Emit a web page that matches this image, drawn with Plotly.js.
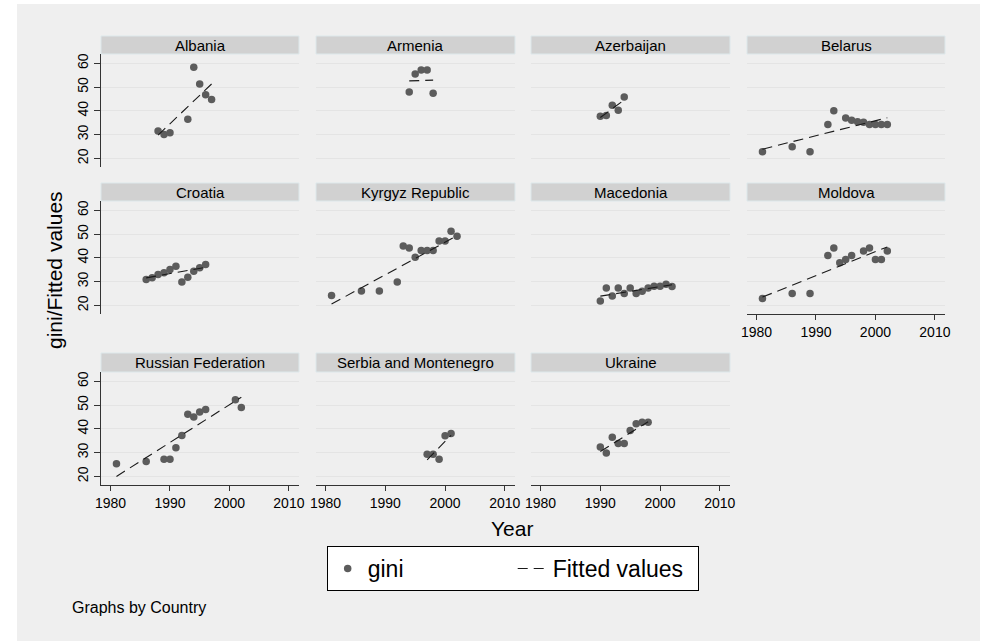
<!DOCTYPE html>
<html><head><meta charset="utf-8">
<script src="https://cdn.plot.ly/plotly-3.0.1.min.js"></script>
<style>html,body{margin:0;padding:0;background:#fff}#chart{width:984px;height:641px}</style>
</head><body><div id="chart"></div>
<script>
// ---- data ----
const countries = ["Albania","Armenia","Azerbaijan","Belarus","Croatia","Kyrgyz Republic","Macedonia","Moldova","Russian Federation","Serbia and Montenegro","Ukraine"];
const yearsAlbania = [1988,1989,1990,1993,1994,1995,1996,1997];
const giniAlbania  = [31.5,30.1,30.8,36.5,58.3,51.3,46.8,44.8];
const yearsArmenia = [1994,1995,1996,1997,1998];
const giniArmenia  = [47.9,55.5,57.2,57.2,47.4];
const yearsAzerbaijan = [1990,1991,1992,1993,1994];
const giniAzerbaijan  = [37.7,38.1,42.4,40.3,45.8];
const yearsBelarus = [1981,1986,1989,1992,1993,1995,1996,1997,1998,1999,2000,2001,2002];
const giniBelarus  = [22.8,24.9,22.8,34.3,40.0,37.0,36.0,35.4,35.2,34.3,34.3,34.3,34.3];
const yearsCroatia = [1986,1987,1988,1989,1990,1991,1992,1993,1994,1995,1996];
const giniCroatia  = [30.9,31.6,33.0,33.7,35.1,36.5,29.8,31.9,34.4,35.8,37.2];
const yearsKyrgyz = [1981,1986,1989,1992,1993,1994,1995,1996,1997,1998,1999,2000,2001,2002];
const giniKyrgyz  = [24.2,26.1,26.1,29.9,45.0,44.1,40.3,43.1,43.1,43.1,47.1,47.1,51.2,49.1];
const yearsMacedonia = [1990,1991,1992,1993,1994,1995,1996,1997,1998,1999,2000,2001,2002];
const giniMacedonia  = [21.9,27.3,24.0,27.3,25.0,27.3,25.0,26.0,27.3,28.1,28.1,28.9,28.0];
const yearsMoldova = [1981,1986,1989,1992,1993,1994,1995,1996,1998,1999,2000,2001,2002];
const giniMoldova  = [22.9,25.0,25.0,41.0,44.1,37.9,39.3,41.0,42.9,44.1,39.3,39.3,42.9];
const yearsRussia = [1981,1986,1989,1990,1991,1992,1993,1994,1995,1996,2001,2002];
const giniRussia  = [25.3,26.3,27.2,27.2,32.1,37.2,46.1,45.0,47.1,48.1,52.2,49.0];
const yearsSerbia = [1997,1998,1999,2000,2001];
const giniSerbia  = [29.3,29.3,27.2,37.1,38.1];
const yearsUkraine = [1990,1991,1992,1993,1994,1995,1996,1997,1998];
const giniUkraine  = [32.4,29.9,36.5,33.8,33.8,39.3,42.1,42.8,42.8];
// fitted values at the first and last year of each country
const fitStart = [29.8,52.6,37.2,23.9,31.6,20.6,23.9,23.5,20.0,27.0,30.5];
const fitEnd   = [51.3,52.9,44.6,37.1,36.0,49.3,28.7,44.6,53.3,37.3,43.0];
const xTickVals = [1980,1990,2000,2010];
const yTickVals = [20,30,40,50,60];

const yearsList = [yearsAlbania,yearsArmenia,yearsAzerbaijan,yearsBelarus,yearsCroatia,yearsKyrgyz,yearsMacedonia,yearsMoldova,yearsRussia,yearsSerbia,yearsUkraine];
const giniList  = [giniAlbania,giniArmenia,giniAzerbaijan,giniBelarus,giniCroatia,giniKyrgyz,giniMacedonia,giniMoldova,giniRussia,giniSerbia,giniUkraine];

// ---- geometry (pixels) ----
const W = 984, H = 641;
const FONT = "Liberation Sans, Arial, Helvetica, sans-serif";
const colX = [[101,299],[316,515],[531,730],[747,945]];
const rowY = [[54,167],[201,314],[372,485]];
const hdrTop = [36,183,353];
const px = v => v / W;
const py = v => 1 - v / H;

const traces = [];
const layout = {
  width: W, height: H,
  margin: {l:0, r:0, t:0, b:0},
  paper_bgcolor: '#ffffff',
  plot_bgcolor: '#ffffff',
  font: {family: FONT, color: '#000'},
  showlegend: true,
  legend: {
    orientation: 'h', x: px(326.7), xanchor: 'left', y: py(546), yanchor: 'top',
    bgcolor: '#ffffff', bordercolor: '#000000', borderwidth: 1,
    font: {family: FONT, size: 23, color: '#000'},
    entrywidth: 140, entrywidthmode: 'pixels', traceorder: 'normal'
  },
  shapes: [{type:'rect', xref:'paper', yref:'paper', x0:px(17), x1:px(980), y0:0, y1:py(4),
            fillcolor:'#efefef', line:{width:0}, layer:'below'}],
  annotations: []
};

countries.forEach((name, i) => {
  const k = i + 1;
  const r = Math.floor(i / 4), c = i % 4;
  const xs = k === 1 ? 'x' : 'x' + k, ys = k === 1 ? 'y' : 'y' + k;
  const xk = k === 1 ? 'xaxis' : 'xaxis' + k, yk = k === 1 ? 'yaxis' : 'yaxis' + k;
  const bottomPanel = (r === 2) || (name === 'Moldova');
  const leftPanel = (c === 0);
  layout[xk] = {
    domain: [px(colX[c][0]), px(colX[c][1])], anchor: ys,
    range: [1978.4, 2011.7], showgrid: false, zeroline: false,
    showline: bottomPanel, linecolor: '#333', linewidth: 1,
    ticks: bottomPanel ? 'outside' : '', ticklen: 5, tickcolor: '#333',
    tickvals: xTickVals, showticklabels: bottomPanel,
    tickfont: {family: FONT, size: 14, color: '#000'}
  };
  layout[yk] = {
    domain: [py(rowY[r][1]), py(rowY[r][0])], anchor: xs,
    range: [16.4, 63.9], showgrid: true, gridcolor: '#e4e4e4', gridwidth: 1, zeroline: false,
    showline: leftPanel, linecolor: '#333', linewidth: 1,
    ticks: leftPanel ? 'outside' : '', ticklen: 6, tickcolor: '#333',
    tickvals: yTickVals, showticklabels: leftPanel, tickangle: -90,
    tickfont: {family: FONT, size: 14, color: '#000'}
  };
  // header strip
  layout.shapes.push({type:'rect', xref:'paper', yref:'paper',
    x0: px(colX[c][0]), x1: px(colX[c][1]), y0: py(rowY[r][0]), y1: py(hdrTop[r]),
    fillcolor: '#d1d1d1', line: {color: '#dde8eb', width: 1}});
  layout.annotations.push({xref:'paper', yref:'paper', showarrow:false,
    x: px((colX[c][0] + colX[c][1]) / 2), y: py((hdrTop[r] + rowY[r][0]) / 2),
    xanchor:'center', yanchor:'middle', text: name,
    font: {family: FONT, size: 15, color: '#000'}});

  const yrs = yearsList[i], g = giniList[i];
  traces.push({type:'scatter', mode:'markers', x: yrs, y: g, xaxis: xs, yaxis: ys,
    name: 'gini', legendgroup: 'gini', showlegend: k === 1,
    marker: {color: '#5c5c5c', size: 7.5}, hoverinfo: 'x+y'});
  traces.push({type:'scatter', mode:'lines', x: [yrs[0], yrs[yrs.length - 1]], y: [fitStart[i], fitEnd[i]],
    xaxis: xs, yaxis: ys, name: 'Fitted values', legendgroup: 'fit', showlegend: k === 1,
    line: {color: '#1a1a1a', width: 1.1, dash: '10px,6px'}, hoverinfo: 'x+y'});
});

// reorder so legend shows gini first, then Fitted values
traces.sort((a, b) => (a.showlegend === b.showlegend) ? 0 : (a.showlegend ? -1 : 1));

layout.annotations.push({xref:'paper', yref:'paper', showarrow:false, x: px(54), y: py(270),
  xanchor:'center', yanchor:'middle', textangle: -90, text: 'gini/Fitted values',
  font: {family: FONT, size: 21, color: '#000'}});
layout.annotations.push({xref:'paper', yref:'paper', showarrow:false, x: px(511.7), y: py(528),
  xanchor:'center', yanchor:'middle', text: 'Year',
  font: {family: FONT, size: 21, color: '#000'}});
layout.annotations.push({xref:'paper', yref:'paper', showarrow:false, x: px(70), y: py(607),
  xanchor:'left', yanchor:'middle', text: 'Graphs by Country',
  font: {family: FONT, size: 16, color: '#000'}});

Plotly.newPlot('chart', traces, layout, {displayModeBar: false, staticPlot: true});
</script>
</body></html>
